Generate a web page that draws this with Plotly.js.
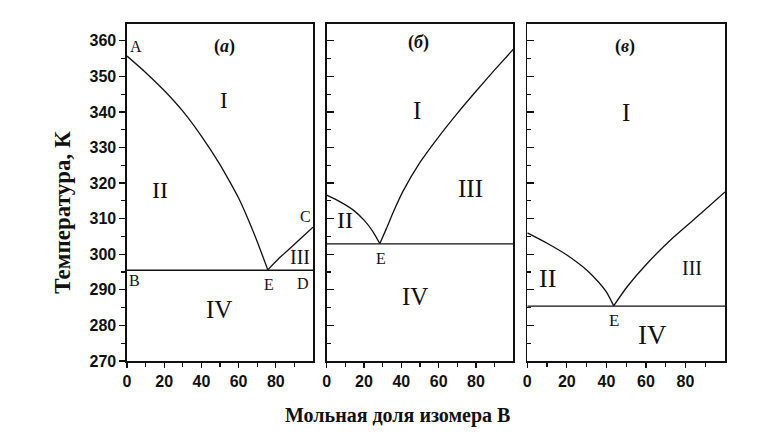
<!DOCTYPE html>
<html>
<head>
<meta charset="utf-8">
<script src="https://cdn.plot.ly/plotly-3.0.1.min.js"></script>
<style>html,body{margin:0;padding:0;background:#fff;}#chart{width:764px;height:442px;}</style>
</head>
<body>
<div id="chart"></div>
<script>
// Panel (a)
const aLeftX  = [0, 10, 20, 30, 40, 50, 55, 60, 65, 70, 75.7];
const aLeftY  = [355.7, 351.1, 346.0, 340.2, 333.2, 325.2, 320.6, 315.8, 310.0, 303.6, 295.6];
const aRightX = [75.7, 82, 89.2, 95, 100];
const aRightY = [295.6, 299.0, 302.4, 305.2, 307.6];
// Panel (б)
const bLeftX  = [0, 7, 14.3, 20, 24.5, 28.5];
const bLeftY  = [316.6, 314.8, 312.4, 309.6, 306.6, 303.0];
const bRightX = [28.5, 32, 36, 41, 50, 60, 70, 80, 90, 100];
const bRightY = [303.0, 307.2, 312.2, 317.8, 325.8, 333.0, 339.6, 345.8, 351.8, 357.6];
// Panel (в)
const cLeftX  = [0, 10, 20, 30, 36, 40, 43.7];
const cLeftY  = [306.0, 303.1, 299.8, 295.6, 292.2, 289.4, 285.5];
const cRightX = [43.7, 50.4, 60.6, 74.2, 87.9, 100];
const cRightY = [285.5, 290.8, 297.4, 304.9, 311.5, 317.5];
// Eutectic (solidus) temperatures for panels a, б, в
const eutecticT = [295.5, 302.9, 285.4];
const xSpan = [0, 100];
const xTicks = [0, 20, 40, 60, 80];
const yTicks = [270, 280, 290, 300, 310, 320, 330, 340, 350, 360];
const yTitle = 'Температура, К';
const xTitle = 'Мольная доля изомера В';
const panelNames = ['(<i>a</i>)', '(<i>б</i>)', '(<i>в</i>)'];

const lineStyle = {color: '#111', width: 1.3};
function tr(x, y, xa, ya, shape) {
  return {x: x, y: y, xaxis: xa, yaxis: ya, mode: 'lines', line: Object.assign({shape: shape || 'spline', smoothing: 0.6}, lineStyle), hoverinfo: 'skip', showlegend: false};
}
const data = [
  tr(aLeftX, aLeftY, 'x', 'y'), tr(aRightX, aRightY, 'x', 'y'), tr(xSpan, [eutecticT[0], eutecticT[0]], 'x', 'y', 'linear'),
  tr(bLeftX, bLeftY, 'x2', 'y2'), tr(bRightX, bRightY, 'x2', 'y2'), tr(xSpan, [eutecticT[1], eutecticT[1]], 'x2', 'y2', 'linear'),
  tr(cLeftX, cLeftY, 'x3', 'y3'), tr(cRightX, cRightY, 'x3', 'y3'), tr(xSpan, [eutecticT[2], eutecticT[2]], 'x3', 'y3', 'linear')
];

const tickFont = {family: 'Liberation Sans, Arial, sans-serif', size: 16, weight: 'bold', color: '#111'};
function xAx(domain, anchor) {
  return {domain: domain, anchor: anchor, range: [0, 100], tickvals: xTicks, ticks: 'outside', ticklen: 5, tickwidth: 1.3, tickcolor: '#111',
    minor: {tickvals: [10, 30, 50, 70, 90], ticks: 'outside', ticklen: 4, tickwidth: 1.2, tickcolor: '#111', showgrid: false},
    showline: true, mirror: true, linecolor: '#111', linewidth: 1.6, showgrid: false, zeroline: false, tickfont: tickFont, fixedrange: true};
}
function yAx(anchor, labels) {
  return {anchor: anchor, domain: [0, 1], range: [270, 364.7], tickvals: yTicks, showticklabels: labels,
    ticks: labels ? 'outside' : 'inside', ticklen: labels ? 6 : 7, tickwidth: 1.3, tickcolor: '#111',
    minor: {dtick: 5, tick0: 270, ticks: labels ? 'outside' : 'inside', ticklen: 4, tickwidth: 1.2, tickcolor: '#111', showgrid: false},
    showline: true, mirror: true, linecolor: '#111', linewidth: 1.6, showgrid: false, zeroline: false, tickfont: tickFont, fixedrange: true};
}

const serif = 'Liberation Serif, Times New Roman, serif';
function lab(text, xref, yref, x, y, size, bold) {
  return {text: bold ? '<b>' + text + '</b>' : text, xref: xref, yref: yref, x: x, y: y, showarrow: false,
    xanchor: 'center', yanchor: 'middle', font: {family: serif, size: size, color: '#111'}};
}
const annotations = [
  // panel a
  lab(panelNames[0], 'x', 'y', 52.4, 358.3, 18, true),
  lab('A', 'x', 'y', 4.8, 358.3, 16), lab('I', 'x', 'y', 51.9, 343.3, 23), lab('II', 'x', 'y', 17.8, 318, 24),
  lab('C', 'x', 'y', 96, 310.7, 16), lab('III', 'x', 'y', 92.8, 299.3, 20), lab('B', 'x', 'y', 3.9, 292.5, 16),
  lab('E', 'x', 'y', 76.3, 291.6, 16), lab('D', 'x', 'y', 94.6, 291.8, 16), lab('IV', 'x', 'y', 49.7, 284.5, 25),
  // panel б
  lab(panelNames[1], 'x2', 'y2', 49.1, 359.4, 18, true),
  lab('I', 'x2', 'y2', 48.2, 340.5, 25), lab('III', 'x2', 'y2', 76.8, 318.5, 25), lab('II', 'x2', 'y2', 9.8, 309.6, 24),
  lab('E', 'x2', 'y2', 28.9, 298.8, 16), lab('IV', 'x2', 'y2', 47.3, 288, 25),
  // panel в
  lab(panelNames[2], 'x3', 'y3', 49.6, 358.5, 18, true),
  lab('I', 'x3', 'y3', 50.1, 339.8, 25), lab('II', 'x3', 'y3', 10.3, 293.2, 26), lab('III', 'x3', 'y3', 83.4, 296, 20),
  lab('E', 'x3', 'y3', 44, 281.5, 17), lab('IV', 'x3', 'y3', 63.1, 277.2, 27),
  // axis titles
  {text: '<b>' + xTitle + '</b>', xref: 'paper', yref: 'paper', x: 0.453, y: -0.162, showarrow: false, xanchor: 'center', yanchor: 'middle',
    font: {family: serif, size: 20, color: '#111'}},
  {text: '<b>' + yTitle + '</b>', xref: 'paper', yref: 'paper', x: -0.109, y: 0.442, showarrow: false, xanchor: 'center', yanchor: 'middle', textangle: -90,
    font: {family: serif, size: 23, color: '#111'}}
];

const layout = {
  width: 764, height: 442,
  margin: {l: 127, r: 39, t: 24, b: 81},
  paper_bgcolor: '#fff', plot_bgcolor: '#fff',
  showlegend: false,
  xaxis: xAx([0, 0.311], 'y'),
  xaxis2: xAx([0.3339, 0.646], 'y2'),
  xaxis3: xAx([0.6694, 1], 'y3'),
  yaxis: yAx('x', true),
  yaxis2: yAx('x2', false),
  yaxis3: yAx('x3', false),
  annotations: annotations
};
Plotly.newPlot('chart', data, layout, {displayModeBar: false, staticPlot: true});
</script>
</body>
</html>
